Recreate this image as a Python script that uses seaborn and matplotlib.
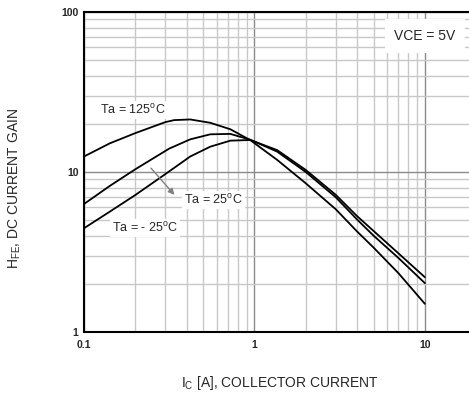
import matplotlib
matplotlib.use("Agg")
import matplotlib.pyplot as plt
import seaborn as sns
import pandas as pd
import numpy as np
from matplotlib.ticker import LogLocator, FixedLocator, NullFormatter, FixedFormatter

# Data (collector current [A] vs DC current gain)
ic_125 = [0.1, 0.1416, 0.2, 0.3, 0.338, 0.42, 0.551, 0.722, 0.947, 1.36, 2.0, 3.0, 4.0, 5.0, 7.0, 10.0]
hfe_125 = [12.5, 15.1, 17.5, 20.5, 21.1, 21.3, 20.3, 18.5, 15.8, 11.9, 8.5, 5.85, 4.25, 3.37, 2.33, 1.5]
ic_25 = [0.1, 0.1416, 0.2, 0.316, 0.42, 0.551, 0.722, 0.947, 1.36, 2.0, 3.0, 4.0, 5.0, 7.0, 10.0]
hfe_25 = [6.31, 8.18, 10.4, 14.0, 16.0, 17.2, 17.3, 15.9, 13.4, 10.0, 6.95, 5.05, 4.0, 2.9, 2.02]
ic_m25 = [0.1, 0.1416, 0.2, 0.3, 0.42, 0.551, 0.722, 0.947, 1.36, 2.0, 3.0, 4.0, 5.0, 7.0, 10.0]
hfe_m25 = [4.45, 5.65, 7.18, 9.7, 12.5, 14.4, 15.7, 15.85, 13.7, 10.3, 7.2, 5.3, 4.28, 3.1, 2.2]
series_names = ["Ta = 125°C", "Ta = 25°C", "Ta = -25°C"]
x_ticks = [0.1, 1, 10]
x_ticklabels = ["0.1", "1", "10"]
y_ticks = [1, 10, 100]
y_ticklabels = ["1", "10", "100"]

df = pd.DataFrame({
    "ic": ic_125 + ic_25 + ic_m25,
    "hfe": hfe_125 + hfe_25 + hfe_m25,
    "series": [series_names[0]] * len(ic_125) + [series_names[1]] * len(ic_25)
              + [series_names[2]] * len(ic_m25),
})

sns.set_style("white")
plt.rcParams['font.family'] = ['Liberation Sans', 'DejaVu Sans']

W, H = 469, 401
fig = plt.figure(figsize=(W / 100, H / 100), dpi=100)
ax = fig.add_axes([84 / W, (H - 332) / H, (W - 84) / W, 320 / H])

sns.lineplot(data=df, x="ic", y="hfe", hue="series", units="series", estimator=None,
             palette=["black", "black", "black"], linewidth=1.3, legend=False, ax=ax,
             sort=True)
for ln in ax.get_lines():
    ln.set_solid_joinstyle("round")

ax.set_xscale("log")
ax.set_yscale("log")
ax.set_xlim(0.1, 10 ** (1 + 44 / 170))
ax.set_ylim(1, 100)

ax.xaxis.set_major_locator(FixedLocator(x_ticks))
ax.xaxis.set_major_formatter(FixedFormatter(x_ticklabels))
ax.yaxis.set_major_locator(FixedLocator(y_ticks))
ax.yaxis.set_major_formatter(FixedFormatter(y_ticklabels))
ax.xaxis.set_minor_locator(LogLocator(base=10, subs=np.arange(2, 10), numticks=20))
ax.yaxis.set_minor_locator(LogLocator(base=10, subs=np.arange(2, 10), numticks=20))
ax.xaxis.set_minor_formatter(NullFormatter())
ax.yaxis.set_minor_formatter(NullFormatter())

ax.grid(which="major", color="#8a8a8a", linewidth=1.0)
ax.grid(which="minor", color="#c8c8c8", linewidth=1.0)
ax.set_axisbelow(True)

ax.tick_params(which="both", length=0)
ax.tick_params(axis="x", pad=6, labelsize=7.5)
ax.tick_params(axis="y", pad=4, labelsize=7.5)
for lab in ax.get_xticklabels() + ax.get_yticklabels():
    lab.set_fontweight("bold")

for s in ["left", "bottom", "top"]:
    ax.spines[s].set_color("black")
    ax.spines[s].set_linewidth(1.5)
ax.spines["right"].set_visible(False)

ax.set_xlabel("")
ax.set_ylabel("")

bbox = dict(facecolor="white", edgecolor="none", pad=1.5)
ax.text(0.124, 24.4, "Ta = 125$^\\mathregular{o}$C", fontsize=9, ha="left", va="center", bbox=bbox)
ax.text(0.387, 6.68, "Ta = 25$^\\mathregular{o}$C", fontsize=9, ha="left", va="center", bbox=bbox)
ax.text(0.146, 4.47, "Ta = - 25$^\\mathregular{o}$C", fontsize=9, ha="left", va="center", bbox=bbox)
ax.annotate("", xy=(0.348, 6.98), xytext=(0.241, 10.9),
            arrowprops=dict(arrowstyle="-|>", color="#808080", lw=1.0, mutation_scale=9))
ax.text(10, 70.8, "VCE = 5V", fontsize=10, ha="center", va="center",
        bbox=dict(facecolor="white", edgecolor="none", pad=7))

fig.text(15 / W, 1 - 188 / H, "H$_\\mathregular{FE}$, DC CURRENT GAIN", rotation=90,
         fontsize=10, ha="center", va="center")
fig.text(280 / W, 1 - 383 / H, "I$_\\mathregular{C}$ [A], COLLECTOR CURRENT",
         fontsize=10, ha="center", va="center")

fig.savefig("out.png", dpi=100)
